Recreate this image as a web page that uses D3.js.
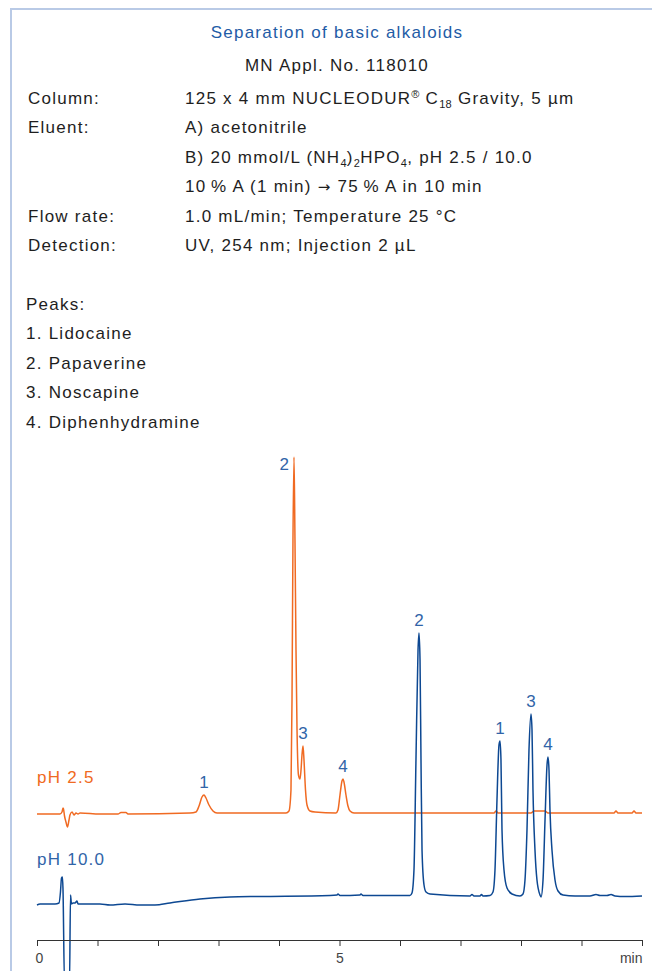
<!DOCTYPE html>
<html>
<head>
<meta charset="utf-8">
<script src="https://cdnjs.cloudflare.com/ajax/libs/d3/7.8.5/d3.min.js"></script>
<style>
  body { margin: 0; background: #fff; }
  svg text { font-family: "Liberation Sans", Arial, Helvetica, sans-serif; }
</style>
</head>
<body>
<script>

// header texts
var title = "Separation of basic alkaloids";
var applNo = "MN Appl. No. 118010";

// conditions, each value is a list of [text, mode] segments
var condLabels = ["Column:", "Eluent:", "", "", "Flow rate:", "Detection:"];
var condValues = [
	[["125 x 4 mm NUCLEODUR"], ["®", "sup"], [" C"], ["18", "sub"], [" Gravity, 5 µm"]],
	[["A) acetonitrile"]],
	[["B) 20 mmol/L (NH"], ["4", "sub"], [")"], ["2", "sub"], ["HPO"], ["4", "sub"], [", pH 2.5 / 10.0"]],
	[["10\u2009% A (1 min) "], ["\u2192", "arrow"], [" 75\u2009% A in 10 min"]],
	[["1.0 mL/min; Temperature 25 °C"]],
	[["UV, 254 nm; Injection 2 µL"]]
];

var peakNames = ["Lidocaine", "Papaverine", "Noscapine", "Diphenhydramine"];

// x axis (min)
var xTicks = [0, 1, 2, 3, 4, 5, 6, 7, 8, 9, 10];
var xTickLabels = ["0", "", "", "", "", "5", "", "", "", "", "min"];

// traces [time (min), signal]
var tracePH25 = [
	[0.000, 126], [0.380, 126], [0.413, 128], [0.430, 132], [0.438, 131], [0.455, 124],
	[0.479, 118], [0.504, 113], [0.529, 120], [0.545, 125], [0.579, 128], [0.612, 125],
	[0.645, 127], [0.678, 126], [0.711, 127], [1.041, 126], [1.339, 126], [1.388, 127.5],
	[1.471, 127.5], [1.504, 126], [2.529, 127], [2.628, 128], [2.678, 134], [2.727, 143],
	[2.760, 145], [2.793, 142], [2.843, 135], [2.909, 129], [2.975, 127], [4.116, 127],
	[4.165, 129], [4.198, 150], [4.215, 240], [4.231, 400], [4.248, 483], [4.264, 400],
	[4.281, 290], [4.298, 210], [4.322, 165], [4.347, 161], [4.364, 170], [4.380, 185],
	[4.397, 194], [4.413, 180], [4.438, 150], [4.463, 135], [4.512, 129], [4.595, 128],
	[4.942, 127], [4.975, 130], [5.008, 145], [5.041, 159], [5.058, 161], [5.074, 158],
	[5.107, 145], [5.140, 134], [5.174, 129], [5.240, 127], [7.554, 127], [7.587, 129],
	[7.620, 127], [8.165, 127], [8.215, 129], [8.397, 129], [8.446, 127], [9.537, 127],
	[9.570, 129], [9.603, 127], [9.835, 127], [9.868, 129], [9.901, 127], [10.000, 127]
];

var tracePH10 = [
	[0.000, 35], [0.050, 36], [0.298, 36], [0.364, 37], [0.388, 48], [0.405, 62],
	[0.421, 63], [0.430, 50], [0.455, -45], [0.537, -45], [0.554, 45], [0.570, 36],
	[0.595, 37], [0.628, 37], [0.661, 39], [0.678, 36], [0.711, 36], [1.041, 36],
	[1.207, 35], [1.455, 36], [1.702, 35], [1.950, 35], [2.198, 37], [2.694, 41],
	[3.190, 43], [3.686, 43.5], [4.843, 44.5], [4.959, 45], [4.975, 46], [5.008, 44.5],
	[5.339, 45], [5.355, 46], [5.388, 44.5], [6.165, 44.5], [6.198, 47], [6.231, 70],
	[6.264, 180], [6.298, 290], [6.314, 307], [6.331, 280], [6.347, 180], [6.364, 90],
	[6.397, 55], [6.430, 48], [6.496, 46], [7.157, 44], [7.190, 45.5], [7.223, 44],
	[7.322, 44], [7.347, 45.5], [7.372, 44], [7.488, 44.5], [7.537, 48], [7.570, 70],
	[7.603, 140], [7.636, 195], [7.653, 199], [7.669, 180], [7.686, 110], [7.719, 70],
	[7.769, 52], [7.851, 46], [7.983, 44], [8.033, 46], [8.066, 60], [8.099, 110],
	[8.132, 190], [8.165, 226], [8.182, 210], [8.198, 150], [8.231, 90], [8.264, 60],
	[8.314, 45], [8.331, 43], [8.364, 60], [8.397, 120], [8.430, 175], [8.446, 183],
	[8.463, 170], [8.479, 130], [8.512, 90], [8.562, 60], [8.612, 49], [8.694, 45],
	[8.893, 44], [9.140, 44], [9.240, 45.5], [9.306, 44.5], [9.421, 44.5], [9.488, 45.5],
	[9.554, 44], [9.719, 43.5], [10.000, 44]
];

// peak apexes for the numbers
var peaksPH25 = [
	{n: "1", t: 2.760, v: 145},
	{n: "2", t: 4.248, v: 483},
	{n: "3", t: 4.397, v: 194},
	{n: "4", t: 5.058, v: 161}
];
var peaksPH10 = [
	{n: "2", t: 6.314, v: 307},
	{n: "1", t: 7.653, v: 199},
	{n: "3", t: 8.165, v: 226},
	{n: "4", t: 8.446, v: 183}
];

var traceNames = ["pH 2.5", "pH 10.0"];


var WIDTH = 652,
	HEIGHT = 971;

var BORDER = "#b9cae6";
var TITLE_BLUE = "#1f5ca6";
var LABEL_BLUE = "#3164a8";
var ORANGE = "#f06a22";
var NAVY = "#0d4892";
var TEXT = "#1e1e1e";
var FONTSIZE = 17;
var SPACING = "1.25px";

var svg = d3.select("body").append("svg")
	.attr("width", WIDTH)
	.attr("height", HEIGHT);

// frame (left and top border)
svg.append("path")
	.attr("d", "M11," + HEIGHT + "V9H" + WIDTH)
	.attr("fill", "none")
	.attr("stroke", BORDER)
	.attr("stroke-width", 2);

svg.append("text")
	.attr("x", 337)
	.attr("y", 38)
	.attr("text-anchor", "middle")
	.style("font-size", FONTSIZE + "px")
	.style("letter-spacing", SPACING)
	.attr("fill", TITLE_BLUE)
	.text(title);

svg.append("text")
	.attr("x", 337)
	.attr("y", 71)
	.attr("text-anchor", "middle")
	.style("font-size", FONTSIZE + "px")
	.style("letter-spacing", SPACING)
	.attr("fill", TEXT)
	.text(applNo);

// conditions block
var ROW = 29.4;
var condTop = 104;

svg.append("g").selectAll("text")
	.data(condLabels)
	.enter().append("text")
	.attr("x", 28)
	.attr("y", function(d, i) { return condTop + i * ROW; })
	.style("font-size", FONTSIZE + "px")
	.style("letter-spacing", SPACING)
	.attr("fill", TEXT)
	.text(function(d) { return d; });

var condText = svg.append("g").selectAll("text")
	.data(condValues)
	.enter().append("text")
	.attr("x", 185)
	.attr("y", function(d, i) { return condTop + i * ROW; })
	.style("font-size", FONTSIZE + "px")
	.style("letter-spacing", SPACING)
	.attr("fill", TEXT);

condText.each(function(segs) {
	var t = d3.select(this);
	var shift = 0;
	segs.forEach(function(s) {
		var small = s[1] == "sub" || s[1] == "sup";
		var target = s[1] == "sub" ? 4 : s[1] == "sup" ? -6 : 0;
		var span = t.append("tspan")
			.attr("dy", target - shift)
			.style("font-size", small ? "11px" : null)
			.style("letter-spacing", small ? "0.3px" : null)
			.text(s[0]);
		if (s[1] == "arrow") {
			span.style("font-family", "\"DejaVu Sans\", sans-serif")
				.style("font-size", "15px");
		}
		shift = target;
	});
});

// peak list
var peakTop = 310;
svg.append("text")
	.attr("x", 26)
	.attr("y", peakTop)
	.style("font-size", FONTSIZE + "px")
	.style("letter-spacing", SPACING)
	.attr("fill", TEXT)
	.text("Peaks:");

svg.append("g").selectAll("text")
	.data(peakNames)
	.enter().append("text")
	.attr("x", 26)
	.attr("y", function(d, i) { return peakTop + (i + 1) * ROW; })
	.style("font-size", FONTSIZE + "px")
	.style("letter-spacing", SPACING)
	.attr("fill", TEXT)
	.text(function(d, i) { return (i + 1) + ". " + d; });


// chromatogram
var x = d3.scaleLinear().domain([0, 10]).range([37, 642]);
var y = d3.scaleLinear().domain([0, 500]).range([940, 440]);

var line = d3.line()
	.x(function(d) { return x(d[0]); })
	.y(function(d) { return y(d[1]); })
	.curve(d3.curveMonotoneX);

svg.append("path")
	.datum(tracePH25)
	.attr("fill", "none")
	.attr("stroke", ORANGE)
	.attr("stroke-width", 1.5)
	.attr("stroke-linejoin", "round")
	.attr("d", line);

svg.append("path")
	.datum(tracePH10)
	.attr("fill", "none")
	.attr("stroke", NAVY)
	.attr("stroke-width", 1.5)
	.attr("stroke-linejoin", "round")
	.attr("d", line);

// trace names
svg.append("text")
	.attr("x", x(0))
	.attr("y", y(tracePH25[0][1]) - 31)
	.style("font-size", FONTSIZE + "px")
	.style("letter-spacing", SPACING)
	.attr("fill", ORANGE)
	.text(traceNames[0]);

svg.append("text")
	.attr("x", x(0))
	.attr("y", y(tracePH10[1][1]) - 39)
	.style("font-size", FONTSIZE + "px")
	.style("letter-spacing", SPACING)
	.attr("fill", LABEL_BLUE)
	.text(traceNames[1]);

// peak numbers; a number goes to the left when the next peak is very close
function peakLabels(peaks) {
	svg.append("g").selectAll("text")
		.data(peaks)
		.enter().append("text")
		.attr("x", function(d, i) {
			var next = peaks[i + 1];
			if (next && next.t - d.t < 0.2) return x(d.t) - 5;
			return x(d.t);
		})
		.attr("y", function(d, i) {
			var next = peaks[i + 1];
			if (next && next.t - d.t < 0.2) return y(d.v) + 13;
			return y(d.v) - 7.5;
		})
		.attr("text-anchor", function(d, i) {
			var next = peaks[i + 1];
			return (next && next.t - d.t < 0.2) ? "end" : "middle";
		})
		.style("font-size", FONTSIZE + "px")
		.attr("fill", LABEL_BLUE)
		.text(function(d) { return d.n; });
}
peakLabels(peaksPH25);
peakLabels(peaksPH10);

// x axis
var axis = svg.append("g")
	.attr("transform", "translate(0," + y(0) + ")")
	.call(d3.axisBottom(x)
		.tickValues(xTicks)
		.tickSize(6)
		.tickSizeOuter(0)
		.tickPadding(7)
		.tickFormat(function(d, i) { return xTickLabels[i]; }));

axis.select(".domain").attr("stroke", "#333");
axis.selectAll(".tick line").attr("stroke", "#333");
axis.selectAll(".tick text")
	.attr("fill", "#444")
	.style("font-size", "14px")
	.style("font-family", "\"Liberation Sans\", Arial, sans-serif")
	.attr("text-anchor", function(d) { return d == 10 ? "end" : "middle"; })
	.attr("dx", function(d) { return d == 0 ? 2 : 0; });

</script>
</body>
</html>
